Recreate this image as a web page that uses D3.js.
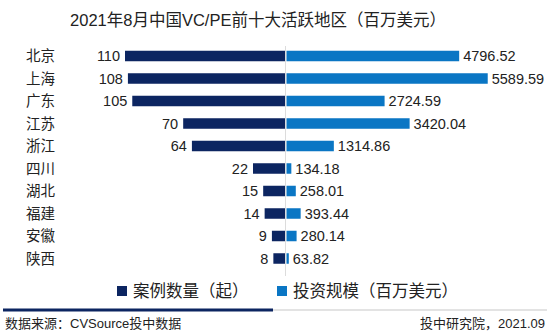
<!DOCTYPE html>
<html>
<head>
<meta charset="utf-8">
<script src="https://cdn.jsdelivr.net/npm/d3@7"></script>
<style>
  html, body { margin: 0; padding: 0; background: #fff; }
  svg { display: block; }
  text { font-family: "Liberation Sans", Arial, "Noto Sans CJK SC", sans-serif; fill: #222; }
</style>
</head>
<body>
<svg id="chart" width="550" height="334"></svg>
<script>
// Top ten regions for China VC/PE activity, August 2021
const regions = ["北京", "上海", "广东", "江苏", "浙江", "四川", "湖北", "福建", "安徽", "陕西"];
const dealCounts = [110, 108, 105, 70, 64, 22, 15, 14, 9, 8];
const dealAmounts = [4796.52, 5589.59, 2724.59, 3420.04, 1314.86, 134.18, 258.01, 393.44, 280.14, 63.82];
const seriesNames = ["案例数量（起）", "投资规模（百万美元）"];
const colors = ["#0c2561", "#0a76c4"];

const svg = d3.select("#chart");
const centerX = 285.5;

// title
svg.append("text")
  .attr("x", 258).attr("y", 20)
  .attr("text-anchor", "middle")
  .attr("dominant-baseline", "central")
  .attr("font-size", 16.5)
  .text("2021年8月中国VC/PE前十大活跃地区（百万美元）");

const y = d3.scalePoint().domain(regions).range([56, 258.5]);
const barH = 10.5;

// left side: deal counts grow to the left of the center axis
const xLeft = d3.scaleLinear().domain([0, 110]).range([0, 160]);
// right side: investment amount grows to the right
const xRight = d3.scaleLinear().domain([0, 6000]).range([0, 216]);

// center divider
svg.append("line")
  .attr("x1", centerX).attr("x2", centerX)
  .attr("y1", 46).attr("y2", 276)
  .attr("stroke", "#dcdcdc").attr("stroke-width", 1);

const rows = regions.map((r, i) => ({ region: r, count: dealCounts[i], amount: dealAmounts[i] }));

const g = svg.append("g");

// category labels
g.selectAll("text.cat").data(rows).enter().append("text")
  .attr("x", 26)
  .attr("y", d => y(d.region))
  .attr("dominant-baseline", "central")
  .attr("font-size", 14.5)
  .text(d => d.region);

// count bars
g.selectAll("rect.left").data(rows).enter().append("rect")
  .attr("x", d => centerX - 0.5 - xLeft(d.count))
  .attr("y", d => y(d.region) - barH / 2)
  .attr("width", d => xLeft(d.count))
  .attr("height", barH)
  .attr("fill", colors[0]);

g.selectAll("text.lv").data(rows).enter().append("text")
  .attr("x", d => centerX - 0.5 - xLeft(d.count) - 5)
  .attr("y", d => y(d.region))
  .attr("text-anchor", "end")
  .attr("dominant-baseline", "central")
  .attr("font-size", 14.5)
  .text(d => d.count);

// amount bars
g.selectAll("rect.right").data(rows).enter().append("rect")
  .attr("x", centerX + 1)
  .attr("y", d => y(d.region) - barH / 2)
  .attr("width", d => xRight(d.amount))
  .attr("height", barH)
  .attr("fill", colors[1]);

g.selectAll("text.rv").data(rows).enter().append("text")
  .attr("x", d => centerX + 1 + xRight(d.amount) + 4)
  .attr("y", d => y(d.region))
  .attr("dominant-baseline", "central")
  .attr("font-size", 14.5)
  .text(d => d.amount.toFixed(2));

// legend
const legendItems = [
  { name: seriesNames[0], color: colors[0], x: 117 },
  { name: seriesNames[1], color: colors[1], x: 277 }
];
const lg = svg.selectAll("g.legend").data(legendItems).enter().append("g")
  .attr("transform", d => `translate(${d.x},291)`);
lg.append("rect")
  .attr("x", 0).attr("y", -5).attr("width", 10).attr("height", 10)
  .attr("fill", d => d.color);
lg.append("text")
  .attr("x", 16).attr("y", 0)
  .attr("dominant-baseline", "central")
  .attr("font-size", 16.5)
  .text(d => d.name);

// footer rule
svg.append("line")
  .attr("x1", 273).attr("x2", 547).attr("y1", 310).attr("y2", 310)
  .attr("stroke", "#e3e3e3").attr("stroke-width", 2);
svg.append("line")
  .attr("x1", 3).attr("x2", 273).attr("y1", 310).attr("y2", 310)
  .attr("stroke", "#0c2561").attr("stroke-width", 3);

// footer text
svg.append("text")
  .attr("x", 5).attr("y", 323)
  .attr("dominant-baseline", "central")
  .attr("font-size", 13)
  .text("数据来源：CVSource投中数据");
svg.append("text")
  .attr("x", 545).attr("y", 323)
  .attr("text-anchor", "end")
  .attr("dominant-baseline", "central")
  .attr("font-size", 13)
  .text("投中研究院，2021.09");
</script>
</body>
</html>
